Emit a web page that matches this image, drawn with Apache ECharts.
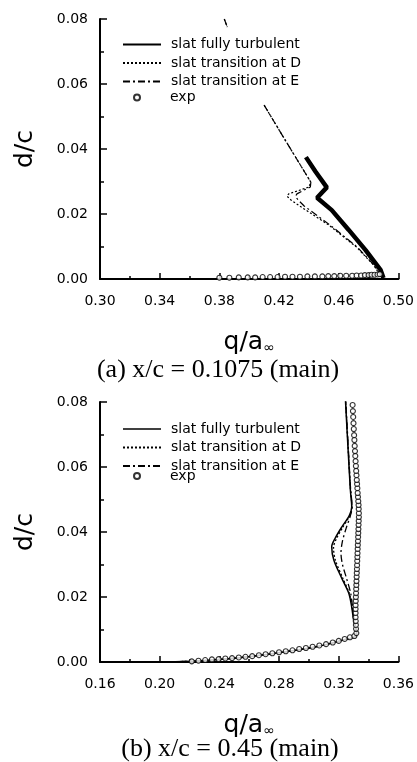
<!DOCTYPE html>
<html>
<head>
<meta charset="utf-8">
<script src="https://cdn.jsdelivr.net/npm/echarts@6/dist/echarts.min.js"></script>
<style>
html, body { margin: 0; padding: 0; background: #fff; }
#main { width: 417px; height: 762px; }
</style>
</head>
<body>
<div id="main"></div>
<script>
// tick labels of the two panels
var xTicksA = [0.30, 0.34, 0.38, 0.42, 0.46, 0.50];
var xTicksB = [0.16, 0.20, 0.24, 0.28, 0.32, 0.36];
var yTicks = [0.00, 0.02, 0.04, 0.06, 0.08];

// (a) x/c = 0.1075 -- [q/a, d/c]
var turbA = [[0.4380, 0.0375], [0.4445, 0.0330], [0.4520, 0.0282], [0.4455, 0.0250], [0.4553, 0.0212],
  [0.4667, 0.0151], [0.4780, 0.0089], [0.4880, 0.0028], [0.4900, 0.0003]];
var transDA = [[0.3833, 0.0800], [0.3853, 0.0775], ['-', '-'], [0.4100, 0.0535], [0.4247, 0.0423], [0.4413, 0.0298],
  [0.4400, 0.0283], [0.4330, 0.0272], [0.4265, 0.0262], [0.4253, 0.0255], [0.4280, 0.0243], [0.4347, 0.0222],
  [0.4533, 0.0166], [0.4720, 0.0098], [0.4833, 0.0043], [0.4887, 0.0006]];
var transEA = [[0.3833, 0.0800], [0.3853, 0.0775], ['-', '-'], [0.4100, 0.0535], [0.4247, 0.0423], [0.4413, 0.0298],
  [0.4410, 0.0283], [0.4360, 0.0272], [0.4320, 0.0262], [0.4310, 0.0254], [0.4330, 0.0242], [0.4370, 0.0224],
  [0.4545, 0.0165], [0.4725, 0.0098], [0.4836, 0.0043], [0.4888, 0.0006]];
var expA_q = [0.3800, 0.3867, 0.3930, 0.3990, 0.4040, 0.4090, 0.4140, 0.4190, 0.4240, 0.4290,
  0.4340, 0.4390, 0.4440, 0.4490, 0.4530, 0.4570, 0.4610, 0.4650, 0.4690, 0.4720,
  0.4750, 0.4775, 0.4800, 0.4820, 0.4840, 0.4860, 0.4875];
var expA_d = [0.0004, 0.0004, 0.0005, 0.0005, 0.0005, 0.0006, 0.0006, 0.0006, 0.0007, 0.0007,
  0.0007, 0.0008, 0.0008, 0.0008, 0.0009, 0.0009, 0.0010, 0.0010, 0.0010, 0.0011,
  0.0011, 0.0012, 0.0012, 0.0013, 0.0013, 0.0014, 0.0015];

// (b) x/c = 0.45
var turbB = [[0.1930, 0.0000], [0.2100, 0.0001], [0.2250, 0.0003], [0.2400, 0.0008], [0.2550, 0.0014],
  [0.2700, 0.0022], [0.2820, 0.0030], [0.2935, 0.0038], [0.3050, 0.0047], [0.3160, 0.0059], [0.3250, 0.0070],
  [0.3310, 0.0078], [0.3320, 0.0089], [0.3300, 0.0129], [0.3287, 0.0169], [0.3267, 0.0212], [0.3220, 0.0258],
  [0.3167, 0.0314], [0.3153, 0.0355], [0.3175, 0.0380], [0.3220, 0.0415], [0.3270, 0.0450], [0.3287, 0.0477],
  [0.3278, 0.0529], [0.3262, 0.0660], [0.3245, 0.0806]];
var transDB = [[0.1930, 0.0000], [0.2100, 0.0001], [0.2250, 0.0003], [0.2400, 0.0008], [0.2550, 0.0014],
  [0.2700, 0.0022], [0.2820, 0.0030], [0.2935, 0.0038], [0.3050, 0.0047], [0.3160, 0.0059], [0.3250, 0.0070],
  [0.3310, 0.0078], [0.3320, 0.0089], [0.3302, 0.0129], [0.3290, 0.0169], [0.3270, 0.0212], [0.3227, 0.0258],
  [0.3177, 0.0314], [0.3165, 0.0352], [0.3185, 0.0380], [0.3228, 0.0415], [0.3273, 0.0450], [0.3288, 0.0477],
  [0.3279, 0.0529], [0.3263, 0.0660], [0.3246, 0.0806]];
var transEB = [[0.1930, 0.0000], [0.2100, 0.0001], [0.2250, 0.0003], [0.2400, 0.0008], [0.2550, 0.0014],
  [0.2700, 0.0022], [0.2820, 0.0030], [0.2935, 0.0038], [0.3050, 0.0047], [0.3160, 0.0059], [0.3250, 0.0070],
  [0.3310, 0.0078], [0.3320, 0.0089], [0.3305, 0.0129], [0.3293, 0.0169], [0.3280, 0.0212], [0.3252, 0.0258],
  [0.3225, 0.0300], [0.3215, 0.0335], [0.3225, 0.0372], [0.3250, 0.0412], [0.3278, 0.0450], [0.3290, 0.0477],
  [0.3280, 0.0529], [0.3264, 0.0660], [0.3247, 0.0806]];
var expB_q = [0.2215, 0.2260, 0.2305, 0.2350, 0.2395, 0.2440, 0.2485, 0.2530, 0.2575, 0.2620,
  0.2665, 0.2710, 0.2755, 0.2800, 0.2845, 0.2890, 0.2935, 0.2980, 0.3025, 0.3070,
  0.3115, 0.3160, 0.3200, 0.3240, 0.3275, 0.3305,
  0.3318, 0.3316, 0.3315, 0.3314, 0.3313, 0.3313, 0.3313, 0.3313, 0.3314, 0.3315,
  0.3316, 0.3317, 0.3318, 0.3319, 0.3320, 0.3321, 0.3322, 0.3323, 0.3324, 0.3325,
  0.3326, 0.3327, 0.3328, 0.3329, 0.3330, 0.3331, 0.3332, 0.3333, 0.3334, 0.3335,
  0.3335, 0.3334, 0.3333, 0.3331, 0.3329, 0.3327, 0.3325, 0.3323, 0.3321, 0.3319,
  0.3317, 0.3315, 0.3313, 0.3311, 0.3309, 0.3307, 0.3305, 0.3303, 0.3301, 0.3299,
  0.3297, 0.3295, 0.3293];
var expB_d = [0.0002, 0.0004, 0.0006, 0.0008, 0.0009, 0.0011, 0.0012, 0.0014, 0.0016, 0.0018,
  0.0021, 0.0024, 0.0027, 0.0030, 0.0033, 0.0036, 0.0040, 0.0043, 0.0047, 0.0051,
  0.0055, 0.0060, 0.0065, 0.0071, 0.0076, 0.0080,
  0.0089, 0.0102, 0.0114, 0.0126, 0.0138, 0.0151, 0.0163, 0.0175, 0.0188, 0.0200,
  0.0212, 0.0225, 0.0237, 0.0249, 0.0262, 0.0274, 0.0286, 0.0298, 0.0311, 0.0323,
  0.0335, 0.0348, 0.0360, 0.0372, 0.0385, 0.0397, 0.0409, 0.0422, 0.0434, 0.0446,
  0.0458, 0.0471, 0.0483, 0.0495, 0.0508, 0.0520, 0.0535, 0.0548, 0.0560, 0.0575,
  0.0588, 0.0603, 0.0618, 0.0634, 0.0649, 0.0665, 0.0683, 0.0698, 0.0717, 0.0735,
  0.0754, 0.0772, 0.0791];

var titleA = '(a) x/c = 0.1075 (main)';
var titleB = '(b) x/c = 0.45 (main)';

function zip(a, b) {
  var out = [];
  for (var i = 0; i < a.length; i++) out.push([a[i], b[i]]);
  return out;
}
function step(t) { return Math.round((t[1] - t[0]) * 1000) / 1000; }

var FONT = 'DejaVu Sans';
var tickLine = { color: '#000', width: 1.5 };

function xAxisOf(idx, ticks) {
  return {
    type: 'value', gridIndex: idx,
    min: ticks[0], max: ticks[ticks.length - 1], interval: step(ticks),
    name: '{q|q/a}{s|∞}', nameLocation: 'middle', nameGap: 51,
    nameTextStyle: {
      rich: {
        q: { fontFamily: FONT, fontSize: 25, color: '#000', verticalAlign: 'bottom' },
        s: { fontFamily: FONT, fontSize: 14, color: '#000', verticalAlign: 'bottom' }
      }
    },
    axisLine: { lineStyle: { color: '#000', width: 2 } },
    axisTick: { inside: true, length: 6, lineStyle: tickLine },
    minorTick: { show: true, splitNumber: 2, length: 3, lineStyle: tickLine },
    splitLine: { show: false },
    axisLabel: { color: '#000', fontFamily: FONT, fontSize: 14, margin: 15,
      formatter: function (v) { return v.toFixed(2); } }
  };
}
function yAxisOf(idx) {
  return {
    type: 'value', gridIndex: idx,
    min: yTicks[0], max: yTicks[yTicks.length - 1], interval: step(yTicks),
    name: 'd/c', nameLocation: 'middle', nameGap: 62, nameRotate: 90,
    nameTextStyle: { fontFamily: FONT, fontSize: 25, color: '#000' },
    axisLine: { lineStyle: { color: '#000', width: 2 } },
    axisTick: { inside: true, length: 7, lineStyle: tickLine },
    minorTick: { show: true, splitNumber: 2, length: 4, lineStyle: tickLine },
    splitLine: { show: false },
    axisLabel: { color: '#000', fontFamily: FONT, fontSize: 14, margin: 12,
      formatter: function (v) { return v.toFixed(2); } }
  };
}
function lineSeries(name, idx, data, width, type) {
  return {
    name: name, type: 'line', xAxisIndex: idx, yAxisIndex: idx,
    data: data, symbol: 'none', smooth: idx === 1 ? 0.3 : false,
    lineStyle: { color: '#000', width: width, type: type },
    itemStyle: { color: '#000' }, z: 2
  };
}
function expSeries(idx, data) {
  return {
    name: 'exp', type: 'scatter', xAxisIndex: idx, yAxisIndex: idx,
    data: data, symbol: 'circle', symbolSize: 5,
    itemStyle: { color: '#fff', borderColor: '#000', borderWidth: 1.1 }, z: 3
  };
}
// line samples: 38 px wide, no marker in the middle
function lineLegend(top, names) {
  return {
    orient: 'vertical', left: 117, top: top, itemWidth: 38, itemHeight: 13, itemGap: 4.5,
    selectedMode: false, data: names, itemStyle: { opacity: 0 },
    textStyle: { fontFamily: FONT, fontSize: 14, color: '#000', padding: [0, 0, 0, 5] }
  };
}
// small circle centred under the line samples
function expLegend(top) {
  return {
    orient: 'vertical', left: 128, top: top, itemWidth: 6, itemHeight: 6,
    selectedMode: false, data: [{ name: 'exp', icon: 'circle' }],
    textStyle: { fontFamily: FONT, fontSize: 14, color: '#000', padding: [0, 0, 0, 25] }
  };
}

var myChart = echarts.init(document.getElementById('main'), null, { renderer: 'canvas' });
var option = {
  backgroundColor: '#fff',
  animation: false,
  grid: [
    { left: 100, top: 19, width: 300, height: 260 },
    { left: 100, top: 402, width: 299, height: 260 }
  ],
  xAxis: [xAxisOf(0, xTicksA), xAxisOf(1, xTicksB)],
  yAxis: [yAxisOf(0), yAxisOf(1)],
  legend: [
    lineLegend(32.5, ['slat fully turbulent', 'slat transition at D', 'slat transition at E']),
    expLegend(85.5),
    lineLegend(417, [{ name: 'slat fully turbulent', lineStyle: { width: 1.5 } },
      'slat transition at D', 'slat transition at E']),
    expLegend(464)
  ],
  graphic: [
    { type: 'text', x: 218, y: 370, style: { text: titleA, font: '26px "Liberation Serif"', fill: '#000', align: 'center', verticalAlign: 'middle' } },
    { type: 'text', x: 230, y: 749, style: { text: titleB, font: '26px "Liberation Serif"', fill: '#000', align: 'center', verticalAlign: 'middle' } }
  ],
  series: [
    lineSeries('slat fully turbulent', 0, turbA, 4.5, 'solid'),
    lineSeries('slat transition at D', 0, transDA, 1.2, [2, 2]),
    lineSeries('slat transition at E', 0, transEA, 1.2, [7, 3, 2, 3]),
    expSeries(0, zip(expA_q, expA_d)),
    lineSeries('slat fully turbulent', 1, turbB, 1.5, 'solid'),
    lineSeries('slat transition at D', 1, transDB, 1.3, [2, 2]),
    lineSeries('slat transition at E', 1, transEB, 1.3, [7, 3, 2, 3]),
    expSeries(1, zip(expB_q, expB_d))
  ]
};
myChart.setOption(option);
</script>
</body>
</html>
